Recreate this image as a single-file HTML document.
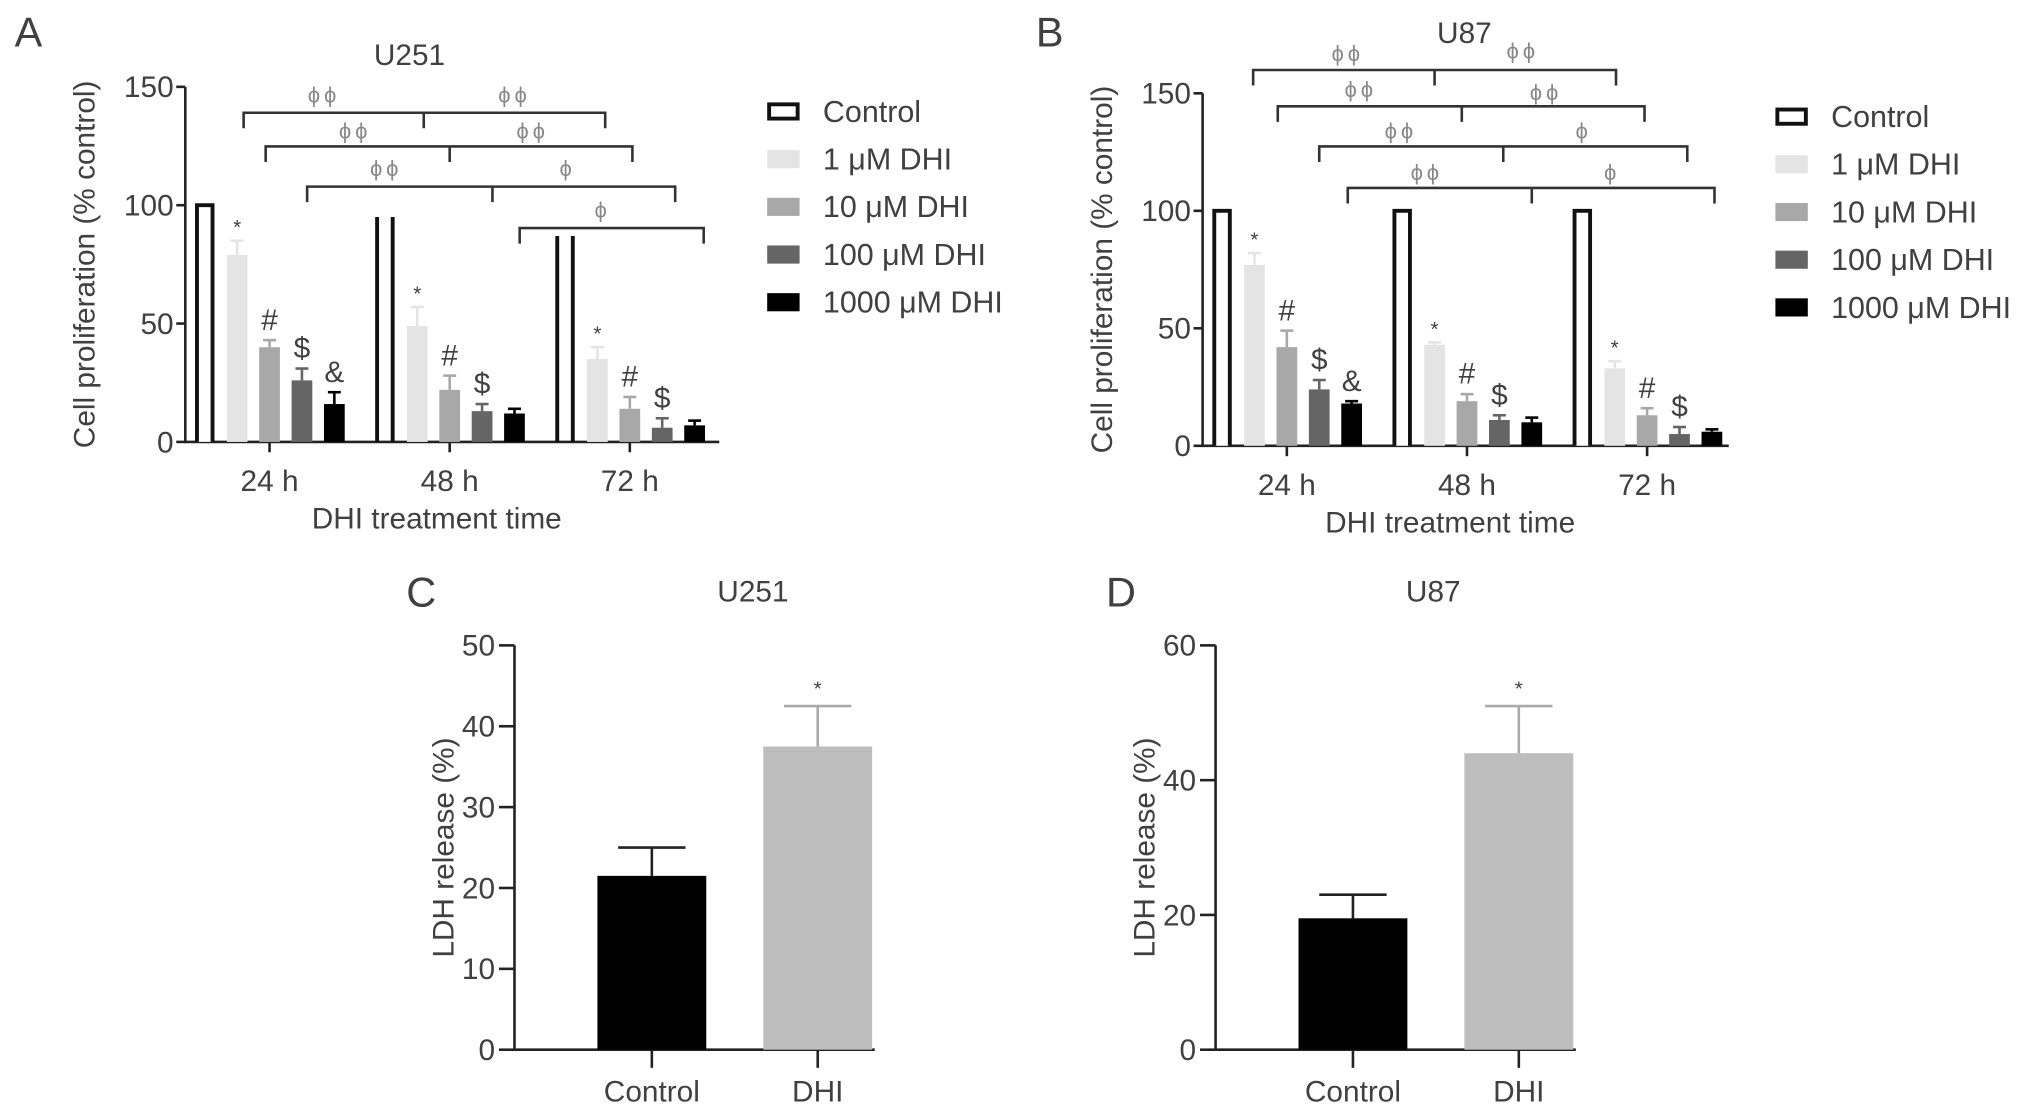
<!DOCTYPE html>
<html><head><meta charset="utf-8"><style>
html,body{margin:0;padding:0;background:#fff;}
svg{display:block;font-family:"Liberation Sans",Arial,sans-serif;}
text{fill:#404040;}
</style></head><body>
<svg id="fig" width="2032" height="1114" viewBox="0 0 1568 859.6" xmlns="http://www.w3.org/2000/svg"></svg>
<script>
// ---- data ----
const timeCategories = ["24 h","48 h","72 h"];
const seriesNames = ["Control","1 \u03bcM DHI","10 \u03bcM DHI","100 \u03bcM DHI","1000 \u03bcM DHI"];
const u251Control = [100, 95, 87];
const u251Dhi1 = [79, 49, 35];
const u251Dhi10 = [40, 22, 14];
const u251Dhi100 = [26, 13, 6];
const u251Dhi1000 = [16, 12, 7];
const u251Err = [[0,0,0],[6,8,5],[3,6,5],[5,3,4],[5,2,2]];
const u87Control = [100, 100, 100];
const u87Dhi1 = [77, 43, 33];
const u87Dhi10 = [42, 19, 13];
const u87Dhi100 = [24, 11, 5];
const u87Dhi1000 = [18, 10, 6];
const u87Err = [[0,0,0],[5,1,3],[7,3,3],[4,2,3],[1,2,1]];
const propTicks = [0, 50, 100, 150];
const ldhCategories = ["Control","DHI"];
const ldhU251 = [21.5, 37.5];
const ldhU251Err = [3.5, 5];
const ldhU251Ticks = [0,10,20,30,40,50];
const ldhU87 = [19.5, 44];
const ldhU87Err = [3.5, 7];
const ldhU87Ticks = [0,20,40,60];

const NS="http://www.w3.org/2000/svg";
const svg=document.getElementById('fig');
const colors=["#fff","#e4e4e4","#a8a8a8","#656565","#000"];
function el(tag,attrs,parent){const e=document.createElementNS(NS,tag);for(const k in attrs)e.setAttribute(k,attrs[k]);(parent||svg).appendChild(e);return e;}
function txt(s,x,y,size,anchor,parent,extra){const t=el('text',Object.assign({x:x,y:y,'font-size':size,'text-anchor':anchor||'middle'},extra||{}),parent);t.textContent=s;return t;}

function propPanel(cfg){
  const g=el('g',{});
  
  
  const y=v=>cfg.y0-(v/150)*(cfg.y0-cfg.y150);
  const xc=i=>cfg.x24+i*cfg.step;
  const series=cfg.series;
  const ax=el('path',{d:`M${cfg.ax},${cfg.y150}V${cfg.y0}H${cfg.axEnd}`,stroke:'#222','stroke-width':2,fill:'none'},g);
  
  propTicks.forEach(t=>{
    el('line',{x1:cfg.ax-7,x2:cfg.ax,y1:y(t),y2:y(t),stroke:'#222','stroke-width':2},g);
    const tl=txt(String(t),cfg.ax-9,y(t)+8,23,'end',g);
    
  });
  timeCategories.forEach((c,i)=>{
    el('line',{x1:xc(i),x2:xc(i),y1:cfg.y0,y2:cfg.y0+8,stroke:'#222','stroke-width':2},g);
    const tl=txt(c,xc(i),cfg.y0+38,23,'middle',g);
    
  });
  const xt=txt('DHI treatment time',(cfg.ax+cfg.axEnd)/2-12,cfg.y0+67,23,'middle',g);
  
  const yt=txt('Cell proliferation (% control)',0,0,23,'middle',g,{transform:`translate(${cfg.ax-70},${(cfg.y0+cfg.y150)/2}) rotate(-90)`});
  
  const tt=txt(cfg.title,cfg.titleX,cfg.titleY,23,'middle',g);
  
  const lt=txt(cfg.letter,cfg.letterX,36,32,'middle',g);
  
  const bw=16, off=[-50,-25,0,25,50];
  series.forEach((vals,s)=>{
    vals.forEach((v,i)=>{
      const cx=xc(i)+off[s];
      if(s===0){
        const w=12;
        const d=cfg.openTop&&i>0?`M${cx-w/2},${y(0)}V${y(v)}M${cx+w/2},${y(v)}V${y(0)}`:`M${cx-w/2},${y(0)}V${y(v)}H${cx+w/2}V${y(0)}`;
        const b=el('path',{d:d,stroke:'#111','stroke-width':3,fill:'#fff'},g);
        
        
      } else {
        const e=cfg.err[s][i];
        el('line',{x1:cx,x2:cx,y1:y(v),y2:y(v+e),stroke:colors[s],'stroke-width':2},g);
        el('line',{x1:cx-5,x2:cx+5,y1:y(v+e),y2:y(v+e),stroke:colors[s],'stroke-width':2},g);
        const b=el('rect',{x:cx-bw/2,y:y(v),width:bw,height:y(0)-y(v),fill:colors[s]},g);
        
        
        const sym=['','*','#','$','&'][s];
        if(s===4&&i>0) return;
        const top=y(v+e);
        const st=txt(sym,cx,s===1?top-5:top-8,s===1?16:23,'middle',g);
        
      }
    });
  });
  cfg.brackets.forEach(br=>{
    let d=`M${br.x1},${br.y+12}V${br.y}H${br.x2}V${br.y+12}`;
    if(br.mid) d+=`M${br.mid},${br.y}V${br.y+12}`;
    const p=el('path',{d:d,stroke:'#333','stroke-width':2,fill:'none'},g);
    
    br.labels.forEach(l=>{
      const t=txt(l[2],l[0],l[1],17,'middle',g,{style:'fill:#888','letter-spacing':'3'});
      
    });
  });
  const lg=el('g',{},g);
  
  seriesNames.forEach((n,s)=>{
    const yy=cfg.legY+s*cfg.legStep;
    const sw=el('rect',s===0?{x:cfg.legX+1.5,y:yy-5.5,width:22,height:11,fill:'#fff',stroke:'#111','stroke-width':3}:{x:cfg.legX,y:yy-7,width:25,height:14,fill:colors[s]},lg);
    
    const t=txt(n,cfg.legX+43,yy+8,23.5,'start',lg);
    
  });
}

propPanel({name:'panel-a-u251',letter:'A',letterX:22,title:'U251',titleX:316,titleY:50,
  ax:143,axEnd:555,y0:341,y150:67,x24:208,step:139,openTop:true,
  series:[u251Control,u251Dhi1,u251Dhi10,u251Dhi100,u251Dhi1000],err:u251Err,
  legX:592,legY:86,legStep:36.8,
  brackets:[
    {x1:188,x2:467,y:87,mid:327,labels:[[250,79,'\u03d5\u03d5'],[397,79,'\u03d5\u03d5']]},
    {x1:205,x2:488,y:113,mid:347,labels:[[274,107,'\u03d5\u03d5'],[411,107,'\u03d5\u03d5']]},
    {x1:237,x2:521,y:144,mid:380,labels:[[298,136,'\u03d5\u03d5'],[438,136,'\u03d5']]},
    {x1:401,x2:543,y:176,mid:null,labels:[[465,168,'\u03d5']]}
  ]});
propPanel({name:'panel-b-u87',letter:'B',letterX:810,title:'U87',titleX:1130,titleY:33,
  ax:928,axEnd:1334,y0:344,y150:72,x24:993,step:139,openTop:false,
  series:[u87Control,u87Dhi1,u87Dhi10,u87Dhi100,u87Dhi1000],err:u87Err,
  legX:1370,legY:90,legStep:36.8,
  brackets:[
    {x1:967,x2:1247,y:54,mid:1107,labels:[[1040,47,'\u03d5\u03d5'],[1175,45,'\u03d5\u03d5']]},
    {x1:986,x2:1269,y:82,mid:1128,labels:[[1050,75,'\u03d5\u03d5'],[1193,77,'\u03d5\u03d5']]},
    {x1:1018,x2:1302,y:113,mid:1160,labels:[[1081,107,'\u03d5\u03d5'],[1222,107,'\u03d5']]},
    {x1:1040,x2:1323,y:145,mid:1182,labels:[[1101,139,'\u03d5\u03d5'],[1244,139,'\u03d5']]}
  ]});

function ldhPanel(cfg){
  const g=el('g',{});
  
  
  const max=cfg.ticks[cfg.ticks.length-1];
  const y=v=>cfg.y0-(v/max)*(cfg.y0-cfg.yTop);
  const ax=el('path',{d:`M${cfg.ax},${cfg.yTop}V${cfg.y0}H${cfg.axEnd}`,stroke:'#222','stroke-width':2,fill:'none'},g);
  
  cfg.ticks.forEach(t=>{
    el('line',{x1:cfg.ax-12,x2:cfg.ax,y1:y(t),y2:y(t),stroke:'#222','stroke-width':2},g);
    const tl=txt(String(t),cfg.ax-15,y(t)+8,23,'end',g);
    
  });
  const cols=['#000','#bdbdbd'];
  ldhCategories.forEach((c,i)=>{
    const cx=cfg.xs[i], v=cfg.vals[i], e=cfg.err[i];
    el('line',{x1:cx,x2:cx,y1:cfg.y0,y2:cfg.y0+14,stroke:'#222','stroke-width':2},g);
    const tl=txt(c,cx,cfg.y0+40,23,'middle',g);
    
    el('line',{x1:cx,x2:cx,y1:y(v),y2:y(v+e),stroke:i?'#aaa':'#222','stroke-width':2},g);
    el('line',{x1:cx-26,x2:cx+26,y1:y(v+e),y2:y(v+e),stroke:i?'#aaa':'#222','stroke-width':2},g);
    const b=el('rect',{x:cx-42,y:y(v),width:84,height:y(0)-y(v),fill:cols[i]},g);
    
    
    if(i===1){const s=txt('*',cx,y(v+e)-8,16,'middle',g);}
  });
  const yt=txt('LDH release (%)',0,0,23,'middle',g,{transform:`translate(${cfg.ax-47},${(cfg.y0+cfg.yTop)/2}) rotate(-90)`});
  
  const tt=txt(cfg.title,cfg.titleX,464,23,'middle',g);
  
  const lt=txt(cfg.letter,cfg.letterX,468,32,'middle',g);
  
}
ldhPanel({name:'panel-c-u251',letter:'C',letterX:325,title:'U251',titleX:581,ax:397,axEnd:675,y0:810,yTop:498,
  ticks:ldhU251Ticks,vals:ldhU251,err:ldhU251Err,xs:[503,631]});
ldhPanel({name:'panel-d-u87',letter:'D',letterX:865,title:'U87',titleX:1106,ax:938,axEnd:1216,y0:810,yTop:498,
  ticks:ldhU87Ticks,vals:ldhU87,err:ldhU87Err,xs:[1044,1172]});
</script>
</body></html>
